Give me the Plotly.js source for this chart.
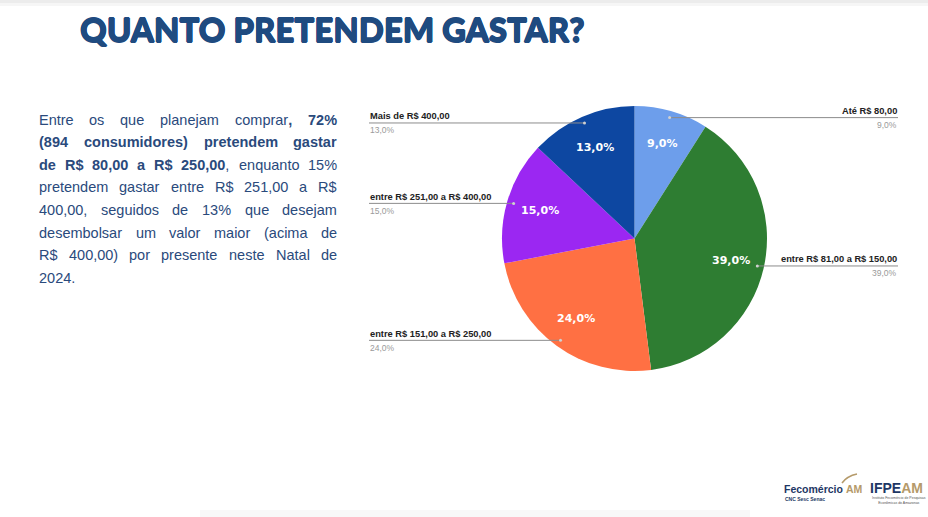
<!DOCTYPE html>
<html><head><meta charset="utf-8">
<script src="https://cdn.plot.ly/plotly-3.0.1.min.js"></script>
<style>html,body{margin:0;padding:0;background:#fff;}#chart{width:928px;height:517px;}</style>
</head><body><div id="chart"></div>
<script>
// ---- data ----
const categories = ['Até R$ 80,00', 'entre R$ 81,00 a R$ 150,00', 'entre R$ 151,00 a R$ 250,00', 'entre R$ 251,00 a R$ 400,00', 'Mais de R$ 400,00'];
const shares = [9, 39, 24, 15, 13];
const sliceColors = ['#6d9eeb', '#2e7d32', '#ff7043', '#9b27f2', '#0d47a1'];
const titleText = 'QUANTO PRETENDEM GASTAR?';
// paragraph lines: tokens as [text, bold]
const paragraphLines = [
  [[['Entre',0]],[['os',0]],[['que',0]],[['planejam',0]],[['comprar',0],[',',1]],[['72%',1]]],
  [[['(894',1]],[['consumidores)',1]],[['pretendem',1]],[['gastar',1]]],
  [[['de',1]],[['R$',1]],[['80,00',1]],[['a',1]],[['R$',1]],[['250,00',1],[',',0]],[['enquanto',0]],[['15%',0]]],
  [[['pretendem',0]],[['gastar',0]],[['entre',0]],[['R$',0]],[['251,00',0]],[['a',0]],[['R$',0]]],
  [[['400,00,',0]],[['seguidos',0]],[['de',0]],[['13%',0]],[['que',0]],[['desejam',0]]],
  [[['desembolsar',0]],[['um',0]],[['valor',0]],[['maior',0]],[['(acima',0]],[['de',0]]],
  [[['R$',0]],[['400,00)',0]],[['por',0]],[['presente',0]],[['neste',0]],[['Natal',0]],[['de',0]]],
  [[['2024.',0]]]
];

// ---- layout geometry ----
const W = 928, H = 517;
const cx = 634.5, cy = 238.5, R = 132.5;
const px = x => x / W, py = y => 1 - y / H;

const annotations = [];
const shapes = [];

// top shadow & bottom soft shadow
shapes.push({type:'rect', xref:'paper', yref:'paper', x0:0, x1:1, y0:py(3), y1:1, fillcolor:'#ececec', line:{width:0}, layer:'below'});
shapes.push({type:'rect', xref:'paper', yref:'paper', x0:0, x1:1, y0:py(6), y1:py(3), fillcolor:'#f6f6f6', line:{width:0}, layer:'below'});
shapes.push({type:'rect', xref:'paper', yref:'paper', x0:px(200), x1:px(750), y0:0, y1:py(510), fillcolor:'#f8f8f8', line:{width:0}, layer:'below'});

// leader lines & outside labels, inside percentages
const total = shares.reduce((a,b)=>a+b,0);
let cum = 0;
shares.forEach((v,i)=>{
  const mid = (cum + v/2)/total * 2*Math.PI;
  cum += v;
  const s = Math.sin(mid), c = Math.cos(mid);
  const dx = cx + 0.95*R*s;
  const dy = cy - 0.95*R*c;
  const right = s > 0;
  const ex = right ? 898 : 369;
  shapes.push({type:'line', xref:'paper', yref:'paper', x0:px(dx), x1:px(ex), y0:py(dy), y1:py(dy), line:{color:'#8c8c8c', width:1}});
  shapes.push({type:'circle', xref:'paper', yref:'paper', x0:px(dx-1.5), x1:px(dx+1.5), y0:py(dy+1.5), y1:py(dy-1.5), fillcolor:'#d0d0d0', line:{width:0}});
  annotations.push({xref:'paper', yref:'paper', x:px(ex), y:py(dy-6.5), text:'<b>'+categories[i]+'</b>', showarrow:false, xanchor:right?'right':'left', yanchor:'middle', borderpad:0, font:{family:'Liberation Sans, Arial', size:9.3, color:'#222'}});
  const pct = (v/total*100).toFixed(1).replace('.',',')+'%';
  annotations.push({xref:'paper', yref:'paper', x:px(ex), y:py(dy+7.5), text:pct, showarrow:false, xanchor:right?'right':'left', yanchor:'middle', borderpad:0, font:{family:'Liberation Sans, Arial', size:8.5, color:'#9a9a9a'}});
  // inside label at ~0.745R along slice bisector
  const tx = cx + 0.745*R*s, ty = cy - 0.745*R*c;
  annotations.push({xref:'paper', yref:'paper', x:px(tx), y:py(ty), text:'<b>'+pct+'</b>', showarrow:false, xanchor:'center', yanchor:'middle', borderpad:0, font:{family:'DejaVu Sans', size:11, color:'#ffffff'}});
});

// title
annotations.push({xref:'paper', yref:'paper', x:px(79), y:py(29), text:titleText, showarrow:false, xanchor:'left', yanchor:'middle', borderpad:0,
  font:{family:'Lato', size:33, weight:900, color:'#1f4b80', shadow:'0.6px 0 0 #1f4b80, -0.6px 0 0 #1f4b80, 0 0.6px 0 #1f4b80, 0 -0.6px 0 #1f4b80'}});

// justified paragraph
const canvas = document.createElement('canvas');
const ctx = canvas.getContext('2d');
const pFont = 14.5, pFam = "'Liberation Sans'";
const pColor = '#2a4a7c';
function partW(t,b){ ctx.font = (b?'bold ':'') + pFont + 'px ' + pFam; return ctx.measureText(t).width; }
const spaceW = partW(' ',0);
const left = 38, rightEdge = 336, top0 = 119.5, lh = 22.6;
paragraphLines.forEach((line, li)=>{
  const widths = line.map(tok => tok.reduce((s,p)=>s+partW(p[0],p[1]),0));
  const sum = widths.reduce((a,b)=>a+b,0);
  const last = li === paragraphLines.length-1;
  const gap = (last || line.length<2) ? spaceW : (rightEdge-left-sum)/(line.length-1);
  let x = left;
  line.forEach((tok,ti)=>{
    const txt = tok.map(p=>p[1]?'<b>'+p[0]+'</b>':p[0]).join('');
    annotations.push({xref:'paper', yref:'paper', x:px(x), y:py(top0+li*lh), text:txt, showarrow:false, xanchor:'left', yanchor:'middle', borderpad:0, font:{family:'Liberation Sans, Arial', size:pFont, color:pColor}});
    x += widths[ti] + gap;
  });
});

// logos (text)
annotations.push({xref:'paper', yref:'paper', x:px(783), y:py(489), text:'<b>Fecomércio</b> <b><span style="color:#b59a6a">AM</span></b>', showarrow:false, xanchor:'left', yanchor:'middle', borderpad:0, font:{family:'Liberation Sans, Arial', size:10.5, color:'#1e3765'}});
annotations.push({xref:'paper', yref:'paper', x:px(784), y:py(499), text:'<b>CNC Sesc Senac</b>', showarrow:false, xanchor:'left', yanchor:'middle', borderpad:0, font:{family:'Liberation Sans, Arial', size:5, color:'#1e3765'}});
annotations.push({xref:'paper', yref:'paper', x:px(869), y:py(488), text:'<b>IFPE<span style="color:#b59a6a">AM</span></b>', showarrow:false, xanchor:'left', yanchor:'middle', borderpad:0, font:{family:'Liberation Sans, Arial', size:14, color:'#1e3765'}});
annotations.push({xref:'paper', yref:'paper', x:px(899), y:py(500), text:'Instituto Fecomércio de Pesquisas<br>Econômicas do Amazonas', showarrow:false, xanchor:'center', yanchor:'middle', borderpad:0, font:{family:'Liberation Sans, Arial', size:3.5, color:'#555'}});
shapes.push({type:'path', xref:'paper', yref:'paper', path:'M '+px(842)+' '+py(483)+' Q '+px(847)+' '+py(476)+' '+px(857)+' '+py(474), line:{color:'#b59a6a', width:1.5}});

const trace = {
  type:'pie', values:shares, labels:categories, sort:false, direction:'clockwise', rotation:0,
  marker:{colors:sliceColors, line:{width:0}},
  textinfo:'none', hoverinfo:'none', showlegend:false,
  domain:{x:[px(cx-R), px(cx+R)], y:[py(cy+R), py(cy-R)]}
};

Plotly.newPlot('chart', [trace], {
  width:W, height:H, margin:{l:0,r:0,t:0,b:0}, paper_bgcolor:'#fff', separators:',.',
  showlegend:false, annotations:annotations, shapes:shapes
}, {staticPlot:true});
</script></body></html>
